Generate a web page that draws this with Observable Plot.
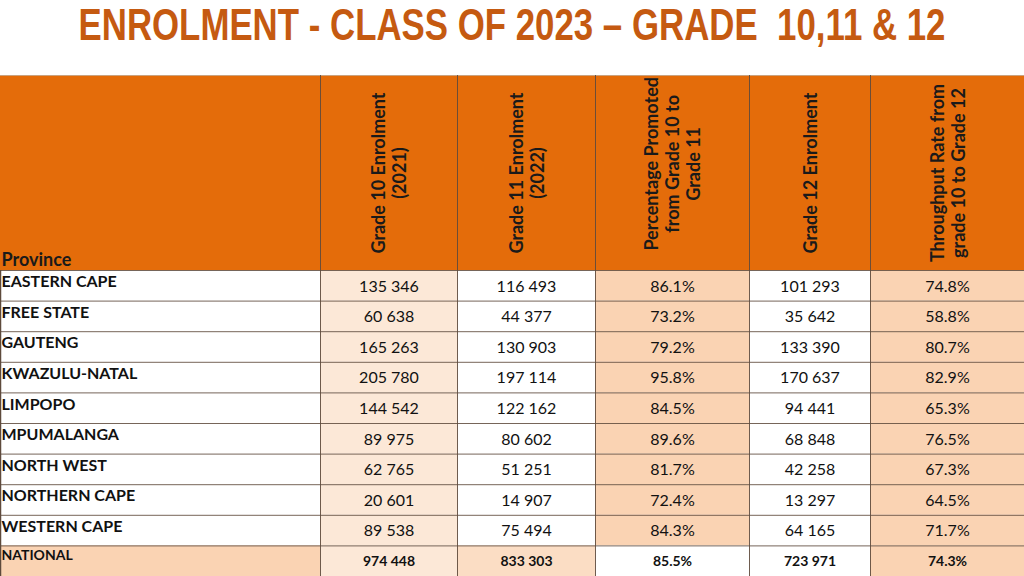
<!DOCTYPE html>
<html>
<head>
<meta charset="utf-8">
<script src="https://cdn.jsdelivr.net/npm/d3@7"></script>
<script src="https://cdn.jsdelivr.net/npm/@observablehq/plot@0.6"></script>
<style>
  html, body { margin: 0; padding: 0; background: #ffffff; }
  #title {
    position: relative; width: 1024px; height: 75px; overflow: hidden;
  }
  #title span {
    position: absolute; left: 511.5px; top: 0; white-space: nowrap;
    line-height: 49px; transform-origin: 0 0;
    font-family: "Liberation Sans", Arial, sans-serif;
    font-weight: bold; font-size: 44px; color: #C55A11;
  }
  #chart svg { display: block; }
</style>
</head>
<body>
<div id="title"><span>ENROLMENT - CLASS OF 2023 – GRADE&nbsp; 10,11 &amp; 12</span></div>
<div id="chart"></div>
<script>
// ---- data ----
const provinces = ["EASTERN CAPE", "FREE STATE", "GAUTENG", "KWAZULU-NATAL", "LIMPOPO",
  "MPUMALANGA", "NORTH WEST", "NORTHERN CAPE", "WESTERN CAPE", "NATIONAL"];
const grade10 = [135346, 60638, 165263, 205780, 144542, 89975, 62765, 20601, 89538, 974448];
const grade11 = [116493, 44377, 130903, 197114, 122162, 80602, 51251, 14907, 75494, 833303];
const pctPromoted = [86.1, 73.2, 79.2, 95.8, 84.5, 89.6, 81.7, 72.4, 84.3, 85.5];
const grade12 = [101293, 35642, 133390, 170637, 94441, 68848, 42258, 13297, 64165, 723971];
const throughput = [74.8, 58.8, 80.7, 82.9, 65.3, 76.5, 67.3, 64.5, 71.7, 74.3];
const columnHeaders = ["Province", "Grade 10 Enrolment\n(2021)", "Grade 11 Enrolment\n(2022)",
  "Percentage Promoted\nfrom Grade 10 to\nGrade 11", "Grade 12 Enrolment",
  "Throughput Rate from\ngrade 10 to Grade 12"];

// ---- title fit ----
const tspan = document.querySelector("#title span");
const tw = tspan.getBoundingClientRect().width;
tspan.style.transform = `scaleX(${867 / tw}) translateX(-50%)`;

// ---- layout & styles ----
const colEdges = [0, 320, 457, 595, 749, 870, 1024];
const rowH = 30.6, headerH = 195;
const H = headerH / rowH;
const nRows = provinces.length;
const headerShift = [0, 0, 0, -0.3, 0, 0];   // vertical nudge of header text, in row units
const orange = "#E46C0A";
const peach = "#FAD3B3";
const lightPeach = "#FCE8D7";
const gridColor = "#5e4a3c";
// fill per column: [normal row, national row]
const colFill = [
  ["#ffffff", peach],
  [lightPeach, lightPeach],
  ["#ffffff", "#FBDDC4"],
  [peach, "#ffffff"],
  ["#ffffff", "#ffffff"],
  [peach, peach]
];

const locale = d3.formatLocale({decimal: ".", thousands: " ", grouping: [3], currency: ["", ""]});
const fmtInt = locale.format(",d");
const fmtPct = v => d3.format(".1f")(v) + "%";

const series = [null, grade10, grade11, pctPromoted, grade12, throughput];
const fmts = [null, fmtInt, fmtInt, fmtPct, fmtInt, fmtPct];

const cells = [];
const values = [];
provinces.forEach((p, i) => {
  const nat = i === nRows - 1;
  for (let c = 0; c < 6; c++) {
    cells.push({x1: colEdges[c], x2: colEdges[c + 1], y1: i, y2: i + 1, fill: colFill[c][nat ? 1 : 0]});
    if (c > 0) values.push({x: (colEdges[c] + colEdges[c + 1]) / 2, y: i + 0.52, text: fmts[c](series[c][i]), nat});
  }
});
const labels = provinces.map((p, i) => ({x: colEdges[0] + 1, y: i + (i === nRows - 1 ? 0.3 : 0.38), text: p, nat: i === nRows - 1}));
const headers = columnHeaders.slice(1).map((t, k) => ({x: (colEdges[k + 1] + colEdges[k + 2]) / 2, y: -H / 2 + headerShift[k + 1], text: t}));

const font = "Lato, 'Open Sans', sans-serif";

const chart = Plot.plot({
  width: 1024, height: 501,
  margin: 0,
  x: {domain: [0, 1024], range: [0, 1024], axis: null},
  y: {domain: [-H, nRows], range: [0, 501], axis: null},
  color: {type: "identity"},
  style: {fontFamily: font, background: "white"},
  marks: [
    Plot.rect([{x1: colEdges[0], x2: colEdges[6], y1: -H, y2: 0}], {x1: "x1", x2: "x2", y1: "y1", y2: "y2", fill: orange}),
    Plot.rect(cells, {x1: "x1", x2: "x2", y1: "y1", y2: "y2", fill: "fill"}),
    Plot.ruleY(d3.range(0, nRows + 1), {x1: colEdges[0], x2: colEdges[6], stroke: gridColor, strokeWidth: 1, strokeOpacity: 0.85}),
    Plot.ruleY([-H], {x1: colEdges[0], x2: colEdges[6], stroke: "#c9a27f", strokeWidth: 1}),
    Plot.ruleX(colEdges.slice(1, 6), {y1: -H, y2: nRows, stroke: gridColor, strokeWidth: 1, strokeOpacity: 0.9}),
    Plot.ruleX([colEdges[0]], {y1: 0, y2: nRows, stroke: gridColor, strokeWidth: 1.5}),
    // header texts
    Plot.text(headers, {x: "x", y: "y", text: "text", rotate: -90, fontSize: 18, fontWeight: "bold", fill: "#1a1a1a", lineHeight: 1.17, textAnchor: "middle"}),
    Plot.text([{x: colEdges[0] + 1, y: -0.33, text: columnHeaders[0]}], {x: "x", y: "y", text: "text", textAnchor: "start", fontSize: 18, fontWeight: "bold", fill: "#1a1a1a"}),
    // province labels
    Plot.text(labels.filter(d => !d.nat), {x: "x", y: "y", text: "text", textAnchor: "start", fontSize: 16, fontWeight: "bold", fill: "#111"}),
    Plot.text(labels.filter(d => d.nat), {x: "x", y: "y", text: "text", textAnchor: "start", fontSize: 14, fontWeight: "bold", fill: "#111"}),
    // values
    Plot.text(values.filter(d => !d.nat), {x: "x", y: "y", text: "text", fontSize: 16, fill: "#111"}),
    Plot.text(values.filter(d => d.nat), {x: "x", y: "y", text: "text", fontSize: 14, fontWeight: "bold", fill: "#111"})
  ]
});
document.getElementById("chart").appendChild(chart);
</script>
</body>
</html>
